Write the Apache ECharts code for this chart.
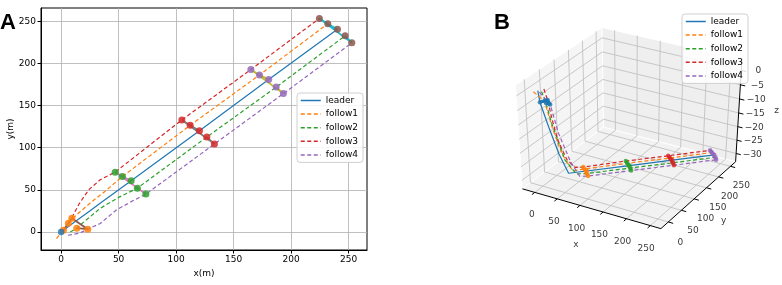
<!DOCTYPE html>
<html>
<head>
<meta charset="utf-8">
<script src="https://cdn.jsdelivr.net/npm/echarts@6/dist/echarts.min.js"></script>
<style>
html, body { margin: 0; padding: 0; background: #fff; }
#main { width: 782px; height: 285px; }
</style>
</head>
<body>
<div id="main"></div>
<script>
// agent names and colours (matplotlib tab10)
var names = ['leader', 'follow1', 'follow2', 'follow3', 'follow4'];
var colors = ['#1f77b4', '#ff7f0e', '#2ca02c', '#d62728', '#9467bd'];

// trajectories [x, y, z]
var leaderPath = [[0,0,1],[2,2,-3],[12,12,-12],[24,24,-22],[36,36,-29.5],[60.9,60.7,-29.5],[120.3,120.2,-29.5],[180.5,181,-29.5],[240.3,240.8,-29.5]];
var follow1Path = [[-4,-8,1],[1,1,-1],[6.3,10.3,-3],[14,21,-13],[25,34,-23],[38,48,-29.5],[53.3,65.8,-29.5],[112.2,126.6,-29.5],[172.5,186.5,-29.5],[231.9,247.3,-29.5]];
var follow2Path = [[8,0,1],[13.6,4.4,-3],[19,11,-10],[34,28,-24],[50,41,-29.5],[66.3,52,-29.5],[126.7,112.7,-29.5],[187,172,-29.5],[247,233,-29.5]];
var follow3Path = [[6,11,1],[9.3,16.3,-3],[12,24,-10],[16,34,-18],[24,50,-26],[34,62,-29.5],[47,71,-29.5],[105,133,-29.5],[165,192.9,-29.5],[224.6,253.6,-29.5]];
var follow4Path = [[6,-4,1],[16,-1.5,-1],[23.2,3.2,-3],[34,10,-13],[48,26,-24],[61,36,-29.5],[73.7,44.9,-29.5],[133.3,104.4,-29.5],[193.3,164.3,-29.5],[252.8,224.6,-29.5]];

// formation snapshots, order: leader, follow1..4
var formT0 = [[2,2,-3],[6.3,10.3,-3],[13.6,4.4,-3],[9.3,16.3,-3],[23.2,3.2,-3]];
var formT1 = [[60.9,60.7,-29.5],[53.3,65.8,-29.5],[66.3,52,-29.5],[47,71,-29.5],[73.7,44.9,-29.5]];
var formT2 = [[120.3,120.2,-29.5],[112.2,126.6,-29.5],[126.7,112.7,-29.5],[105,133,-29.5],[133.3,104.4,-29.5]];
var formT3 = [[180.5,181,-29.5],[172.5,186.5,-29.5],[187,172,-29.5],[165,192.9,-29.5],[193.3,164.3,-29.5]];
var formT4 = [[240.3,240.8,-29.5],[231.9,247.3,-29.5],[247,233,-29.5],[224.6,253.6,-29.5],[252.8,224.6,-29.5]];
var leaderStart = [[0, 0]];
var linkOrder = [0, 1, 3, 4, 2];

var segColorsA = ['#8c564b', '#e377c2', '#7f7f7f', '#bcbd22', '#17becf'];
var markColorsA = ['#ff7f0e', '#2ca02c', '#d62728', '#9467bd', '#8c564b'];
var markColorsB = ['#1f77b4', '#ff7f0e', '#2ca02c', '#d62728', '#9467bd'];

// tick labels
var xTicksA = [0, 50, 100, 150, 200, 250];
var yTicksA = [0, 50, 100, 150, 200, 250];
var xyTicks3 = [0, 50, 100, 150, 200, 250];
var zTicks3 = [-30, -25, -20, -15, -10, -5, 0];

var paths = [leaderPath, follow1Path, follow2Path, follow3Path, follow4Path];
var forms = [formT0, formT1, formT2, formT3, formT4];

var FONT = 'DejaVu Sans';
var DASH = [4, 2.5];

// ---- 3d projection (matplotlib style, elev 35, azim -60) ----
var EL = 35 * Math.PI / 180, AZ = -60 * Math.PI / 180, DIST = 10;
var N = [Math.cos(EL) * Math.cos(AZ), Math.cos(EL) * Math.sin(AZ), Math.sin(EL)];
var U = [-Math.sin(AZ), Math.cos(AZ), 0];
var V = [N[1]*U[2] - N[2]*U[1], N[2]*U[0] - N[0]*U[2], N[0]*U[1] - N[1]*U[0]];
var SX = 1543, OX = 630.6, SY = 1204, OY = 125.2;
var xLim3 = [-22, 266], yLim3 = [-22, 266], zLim3 = [-32.4, 2.9];
var PE = 0.5 + 1 / 48;

function dot(a, b) { return a[0]*b[0] + a[1]*b[1] + a[2]*b[2]; }
function projN(c) {
  var d = DIST - dot(N, c);
  return [dot(U, c) / d, dot(V, c) / d];
}
function nv(v, lim) { return (v - lim[0]) / (lim[1] - lim[0]) - 0.5; }
function proj3(p) { return projN([nv(p[0], xLim3), nv(p[1], yLim3), nv(p[2], zLim3)]); }

var series = [];

// ---------- panel A ----------
paths.forEach(function (p, i) {
  series.push({
    type: 'line', name: names[i], xAxisIndex: 0, yAxisIndex: 0,
    data: p.map(function (q) { return [q[0], q[1]]; }),
    symbol: 'none', silent: true, z: 3,
    lineStyle: { color: colors[i], width: 1.2, type: i === 0 ? 'solid' : DASH },
    itemStyle: { color: colors[i] }
  });
});
forms.forEach(function (f, k) {
  series.push({
    type: 'line', xAxisIndex: 0, yAxisIndex: 0, silent: true, z: 4,
    data: linkOrder.map(function (j) { return [f[j][0], f[j][1]]; }),
    symbol: 'none', lineStyle: { color: segColorsA[k], width: 1.8 }
  });
  series.push({
    type: 'scatter', xAxisIndex: 0, yAxisIndex: 0, silent: true, z: 5,
    data: f.map(function (q) { return [q[0], q[1]]; }),
    symbolSize: 7, itemStyle: { color: markColorsA[k], opacity: 0.85 }
  });
});
series.push({
  type: 'scatter', xAxisIndex: 0, yAxisIndex: 0, silent: true, z: 6,
  data: leaderStart, symbolSize: 6.5, itemStyle: { color: colors[0] }
});

// ---------- panel B ----------
var panes = [
  { c: [[-PE,-PE,-PE],[-PE,PE,-PE],[-PE,PE,PE],[-PE,-PE,PE]], fill: '#f5f5f5' },
  { c: [[-PE,PE,-PE],[PE,PE,-PE],[PE,PE,PE],[-PE,PE,PE]], fill: '#efefef' },
  { c: [[-PE,-PE,-PE],[PE,-PE,-PE],[PE,PE,-PE],[-PE,PE,-PE]], fill: '#f2f2f2' }
];
series.push({
  type: 'custom', xAxisIndex: 1, yAxisIndex: 1, silent: true, z: 0,
  data: panes.map(function (p, i) { return [i]; }),
  renderItem: function (params, api) {
    var pn = panes[params.dataIndex];
    return {
      type: 'polygon',
      shape: { points: pn.c.map(function (c) { return api.coord(projN(c)); }) },
      style: { fill: pn.fill, stroke: '#ffffff', lineWidth: 1 }
    };
  }
});

var gridSegs = [];
xyTicks3.forEach(function (t) {
  var cx = nv(t, xLim3), cy = nv(t, yLim3);
  gridSegs.push([[cx,-PE,-PE],[cx,PE,-PE]], [[cx,PE,-PE],[cx,PE,PE]]);
  gridSegs.push([[-PE,cy,-PE],[PE,cy,-PE]], [[-PE,cy,-PE],[-PE,cy,PE]]);
});
zTicks3.forEach(function (t) {
  var cz = nv(t, zLim3);
  gridSegs.push([[-PE,-PE,cz],[-PE,PE,cz]], [[-PE,PE,cz],[PE,PE,cz]]);
});
series.push({
  type: 'lines', coordinateSystem: 'cartesian2d', xAxisIndex: 1, yAxisIndex: 1, silent: true, z: 1,
  data: gridSegs.map(function (s) { return { coords: [projN(s[0]), projN(s[1])] }; }),
  lineStyle: { color: '#c2c2c2', width: 0.9, opacity: 1 }
});

var axisSegs = [
  [[-PE,-PE,-PE],[PE,-PE,-PE]],
  [[PE,-PE,-PE],[PE,PE,-PE]],
  [[PE,PE,-PE],[PE,PE,PE]]
];
xyTicks3.forEach(function (t) {
  var cx = nv(t, xLim3), cy = nv(t, yLim3);
  axisSegs.push([[cx,-PE,-PE],[cx,-PE-0.035,-PE]]);
  axisSegs.push([[PE,cy,-PE],[PE+0.035,cy,-PE]]);
});
zTicks3.forEach(function (t) {
  var cz = nv(t, zLim3);
  axisSegs.push([[PE,PE,cz],[PE+0.035,PE,cz]]);
});
series.push({
  type: 'lines', coordinateSystem: 'cartesian2d', xAxisIndex: 1, yAxisIndex: 1, silent: true, z: 2,
  data: axisSegs.map(function (s) { return { coords: [projN(s[0]), projN(s[1])] }; }),
  lineStyle: { color: '#000', width: 1, opacity: 1 }
});

function fmtTick(t) { return t < 0 ? '\u2212' + (-t) : String(t); }
var labels3 = [];
xyTicks3.forEach(function (t) {
  labels3.push({ name: fmtTick(t), value: projN([nv(t, xLim3), -PE-0.05, -PE-0.21]) });
  labels3.push({ name: fmtTick(t), value: projN([PE+0.09, nv(t, yLim3), -PE-0.18]) });
});
zTicks3.forEach(function (t) {
  labels3.push({ name: fmtTick(t), value: projN([PE+0.12, PE, nv(t, zLim3)+0.035]) });
});
labels3.push({ name: 'x', value: projN([nv(125, xLim3), -PE-0.2, -PE-0.24]) });
labels3.push({ name: 'y', value: projN([PE+0.18, nv(125, yLim3), -PE-0.22]) });
labels3.push({ name: 'z', value: projN([PE+0.27, PE, nv(-13.75, zLim3)+0.08]) });
series.push({
  type: 'scatter', xAxisIndex: 1, yAxisIndex: 1, silent: true, z: 2,
  data: labels3, symbolSize: 0,
  label: { show: true, position: 'inside', formatter: '{b}', color: '#000', fontSize: 9, fontFamily: FONT }
});

paths.forEach(function (p, i) {
  series.push({
    type: 'line', name: names[i], xAxisIndex: 1, yAxisIndex: 1,
    data: p.map(proj3), symbol: 'none', silent: true, z: 3,
    lineStyle: { color: colors[i], width: 1.2, type: i === 0 ? 'solid' : DASH },
    itemStyle: { color: colors[i] }
  });
});
forms.forEach(function (f, k) {
  series.push({
    type: 'line', xAxisIndex: 1, yAxisIndex: 1, silent: true, z: 4,
    data: linkOrder.map(function (j) { return proj3(f[j]); }),
    symbol: 'none', lineStyle: { color: markColorsB[k], width: 3 }
  });
  series.push({
    type: 'scatter', xAxisIndex: 1, yAxisIndex: 1, silent: true, z: 5,
    data: f.map(proj3), symbolSize: 4.5, itemStyle: { color: markColorsB[k] }
  });
});

function axisA(ticks, min, max, name, isY) {
  return {
    type: 'value', gridIndex: 0, min: min, max: max,
    name: name, nameLocation: 'middle', nameGap: isY ? 24 : 17,
    nameTextStyle: { fontFamily: FONT, fontSize: 9, color: '#000' },
    axisLine: { show: true, onZero: false, lineStyle: { color: '#000', width: 1 } },
    axisTick: { show: true, length: 3.5, customValues: ticks, lineStyle: { color: '#000' } },
    axisLabel: { customValues: ticks, fontFamily: FONT, fontSize: 9, color: '#000', margin: 5 },
    splitLine: { show: true, lineStyle: { color: '#b0b0b0', width: 0.8 } }
  };
}
function axisB(min, max) {
  return { type: 'value', gridIndex: 1, min: min, max: max, show: false };
}
function legendAt(left, top) {
  return {
    left: left, top: top, orient: 'vertical', selectedMode: false,
    data: names.map(function (n, i) {
      return { name: n, itemStyle: { opacity: 0 }, lineStyle: { type: i === 0 ? 'solid' : DASH, width: 1.5, color: colors[i] } };
    }),
    itemWidth: 20, itemHeight: 8, itemGap: 4.6,
    padding: [3, 5, 3, 3], backgroundColor: 'rgba(255,255,255,0.85)',
    borderColor: '#d0d0d0', borderWidth: 1, borderRadius: 3,
    textStyle: { fontFamily: FONT, fontSize: 9, color: '#000' }
  };
}

var chart = echarts.init(document.getElementById('main'));
chart.setOption({
  animation: false,
  backgroundColor: '#fff',
  title: [
    { text: 'A', left: 0, top: 12, padding: 0, textStyle: { fontFamily: 'Liberation Sans', fontSize: 22, fontWeight: 'bold', color: '#000' } },
    { text: 'B', left: 494, top: 12, padding: 0, textStyle: { fontFamily: 'Liberation Sans', fontSize: 22, fontWeight: 'bold', color: '#000' } }
  ],
  legend: [legendAt(297, 93), legendAt(682, 14)],
  grid: [
    { left: 41, top: 8, width: 326, height: 242, show: true, borderColor: '#000', borderWidth: 1, backgroundColor: 'transparent' },
    { left: 0, top: 0, width: 782, height: 285 }
  ],
  xAxis: [axisA(xTicksA, -17.5, 266, 'x(m)', false), axisB(-OX / SX, (782 - OX) / SX)],
  yAxis: [axisA(yTicksA, -21.5, 266, 'y(m)', true), axisB((OY - 285) / SY, OY / SY)],
  series: series
});
</script>
</body>
</html>
